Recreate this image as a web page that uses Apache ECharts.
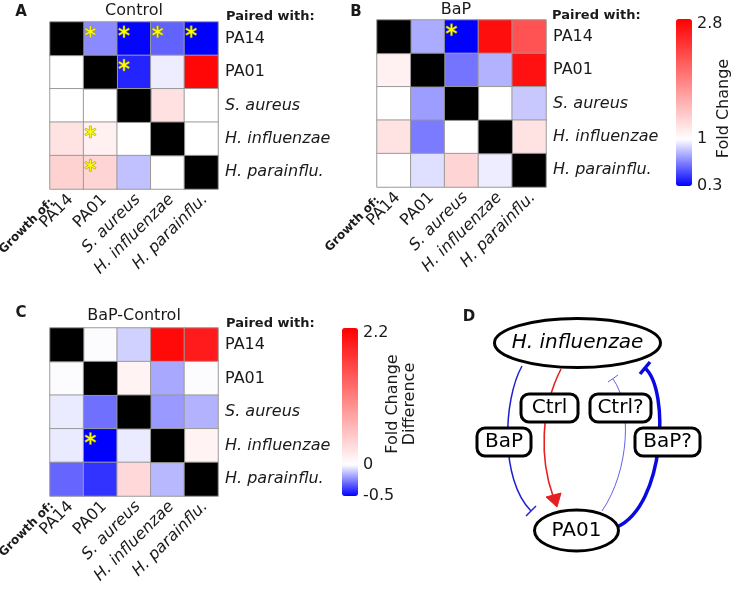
<!DOCTYPE html>
<html><head><meta charset="utf-8">
<script src="https://cdn.jsdelivr.net/npm/echarts@6/dist/echarts.min.js"></script>
<style>html,body{margin:0;padding:0;background:#fff}#c{width:737px;height:603px}</style>
</head><body><div id="c"></div><script>
// ---------- data ----------
const growthOf = ['PA14', 'PA01', 'S. aureus', 'H. influenzae', 'H. parainflu.'];
const pairedWith = ['PA14', 'PA01', 'S. aureus', 'H. influenzae', 'H. parainflu.'];
const italicNames = ['S. aureus', 'H. influenzae', 'H. parainflu.'];
// rows = paired with, columns = growth of; null = self pairing (black cell)
const controlFold = [
  [null, 0.68, 0.31, 0.57, 0.30],
  [1.00, null, 0.40, 0.95, 2.75],
  [1.00, 1.00, null, 1.21, 1.00],
  [1.20, 1.10, 1.00, null, 1.00],
  [1.32, 1.30, 0.83, 1.00, null]
];
const bapFold = [
  [null, 0.77, 0.30, 2.70, 2.22],
  [1.10, null, 0.62, 0.79, 2.68],
  [1.00, 0.73, null, 1.00, 0.85],
  [1.20, 0.64, 1.00, null, 1.20],
  [1.00, 0.91, 1.30, 0.95, null]
];
const diffFold = [
  [null, 0.00, -0.09, 2.12, 1.97],
  [0.00, null, 0.10, -0.17, 0.00],
  [-0.04, -0.28, null, -0.20, -0.15],
  [-0.04, -0.50, -0.04, null, 0.10],
  [-0.30, -0.40, 0.33, -0.14, null]
];
// significance stars as [column, row]
const controlStars = [[1, 0], [2, 0], [3, 0], [4, 0], [2, 1], [1, 3], [1, 4]];
const bapStars = [[2, 0]];
const diffStars = [[1, 3]];
const foldTicks = [0.3, 1, 2.8];
const diffTicks = [-0.5, 0, 2.2];

// ---------- helpers ----------
const FONT = 'DejaVu Sans';
const TXT = '#1a1a1a';
function toCells(m) { const o = []; m.forEach((row, r) => row.forEach((v, c) => { if (v !== null) o.push([c, r, v]); })); return o; }
function selfCells(m) { const o = []; m.forEach((row, r) => row.forEach((v, c) => { if (v === null) o.push([c, r, 0]); })); return o; }
function ramp(min, max, mid, n) {
  const cols = [];
  for (let i = 0; i < n; i++) {
    const v = min + (max - min) * i / (n - 1);
    let r, g, b;
    if (v <= mid) { const t = (mid - v) / (mid - min); r = g = Math.round(255 * (1 - t)); b = 255; }
    else { const t = (v - mid) / (max - mid); r = 255; g = b = Math.round(255 * (1 - t)); }
    cols.push('rgb(' + r + ',' + g + ',' + b + ')');
  }
  return cols;
}
function starPath() {
  const L = 10, w = 1.7, rin = w / Math.sin(Math.PI / 6);
  const pts = [];
  for (let k = 0; k < 6; k++) {
    const th = Math.PI / 2 + k * Math.PI / 3;
    const a0 = th - Math.PI / 6;
    pts.push([rin * Math.cos(a0), rin * Math.sin(a0)]);
    const dx = Math.cos(th), dy = Math.sin(th), nx = -dy, ny = dx;
    pts.push([L * dx - w * nx, L * dy - w * ny]);
    pts.push([L * dx + w * nx, L * dy + w * ny]);
  }
  return 'path://M' + pts.map(p => (p[0] + 12).toFixed(2) + ',' + (p[1] + 12).toFixed(2)).join('L') + 'Z';
}
const STAR = starPath();
const labelFmt = v => italicNames.indexOf(v) >= 0 ? '{i|' + v + '}' : '{n|' + v + '}';
const rich = {
  i: { fontStyle: 'italic', fontSize: 16, fontFamily: FONT, color: TXT },
  n: { fontSize: 16, fontFamily: FONT, color: TXT }
};

const gridPos = [
  { left: 50, top: 22, width: 168, height: 167 },
  { left: 377, top: 20, width: 169, height: 167 },
  { left: 50, top: 328, width: 168, height: 168 },
  { left: 676, top: 19, width: 16, height: 167 },
  { left: 342, top: 328, width: 16, height: 168 }
];

const xAxes = [], yAxes = [];
for (let i = 0; i < 3; i++) {
  xAxes.push({
    type: 'category', gridIndex: i, data: growthOf, position: 'bottom',
    axisLine: { show: false }, axisTick: { show: false }, splitLine: { show: false },
    axisLabel: { rotate: 45, interval: 0, margin: 7, padding: [7, -2, 0, 0], formatter: labelFmt, rich: rich }
  });
  yAxes.push({
    type: 'category', gridIndex: i, data: pairedWith, inverse: true, position: 'right',
    axisLine: { show: false }, axisTick: { show: false }, splitLine: { show: false },
    axisLabel: { interval: 0, margin: 7, formatter: labelFmt, rich: rich }
  });
}
const cbDefs = [
  { ticks: foldTicks, name: 'Fold Change', gap: 23, pad: [0, 12, 0, 0] },
  { ticks: diffTicks, name: 'Fold Change\nDifference', gap: 26, pad: [0, 0, 0, 16] }
];
cbDefs.forEach((d, k) => {
  const top = d.ticks[d.ticks.length - 1];
  xAxes.push({ type: 'value', gridIndex: 3 + k, show: false });
  yAxes.push({
    type: 'value', gridIndex: 3 + k, min: d.ticks[0], max: top, position: 'right',
    axisLine: { show: false }, axisTick: { show: false }, splitLine: { show: false },
    axisLabel: {
      customValues: d.ticks, margin: 5, fontSize: 16, fontFamily: FONT, color: TXT,
      formatter: v => (v === top ? '{t|' + v + '}' : '{n|' + v + '}'),
      rich: {
        t: { fontSize: 16, fontFamily: FONT, color: TXT, padding: [10, 0, 0, 0] },
        n: { fontSize: 16, fontFamily: FONT, color: TXT }
      }
    },
    name: d.name, nameLocation: 'middle', nameRotate: 90, nameGap: d.gap, nameMoveOverlap: false,
    nameTextStyle: { fontSize: 16, fontFamily: FONT, color: TXT, lineHeight: 17, padding: d.pad }
  });
});

const cellStyle = { borderColor: '#9a9a9a', borderWidth: 1 };
const series = [];
[controlFold, bapFold, diffFold].forEach((m, i) => {
  series.push({ type: 'heatmap', xAxisIndex: i, yAxisIndex: i, data: toCells(m), itemStyle: cellStyle, emphasis: { disabled: true } });
});
[controlFold, bapFold, diffFold].forEach((m, i) => {
  series.push({ type: 'heatmap', xAxisIndex: i, yAxisIndex: i, data: selfCells(m), itemStyle: { color: '#000', borderColor: '#9a9a9a', borderWidth: 1 }, emphasis: { disabled: true } });
});
[controlStars, bapStars, diffStars].forEach((s, i) => {
  series.push({
    type: 'scatter', xAxisIndex: i, yAxisIndex: i, data: s, symbol: STAR, symbolSize: 12,
    symbolKeepAspect: true, symbolOffset: [-10, -7], z: 5,
    itemStyle: { color: '#ffff00', borderColor: '#8a8a10', borderWidth: 0.5, opacity: 1 }, emphasis: { disabled: true }
  });
});

// ---------- annotations & panel D diagram ----------
const txt = (x, y, text, o) => Object.assign({ type: 'text', x: x, y: y, z: 10, style: Object.assign({ text: text, fontFamily: FONT, fontSize: 16, fill: TXT, align: 'center', verticalAlign: 'middle' }, o || {}) });
const rot = (x, y, text) => ({ type: 'text', x: x, y: y, rotation: Math.PI / 4, z: 10, style: { text: text, fontFamily: FONT, fontSize: 12, fontWeight: 'bold', fill: TXT, align: 'right', verticalAlign: 'middle' } });
const blueT = '#1f1fd0';
const g = [
  txt(21, 12, 'A', { fontWeight: 'bold', fontSize: 15 }),
  txt(356, 12, 'B', { fontWeight: 'bold', fontSize: 15 }),
  txt(21, 313, 'C', { fontWeight: 'bold', fontSize: 15 }),
  txt(469, 317, 'D', { fontWeight: 'bold', fontSize: 15 }),
  txt(134, 11, 'Control'),
  txt(456, 10, 'BaP'),
  txt(134, 316, 'BaP-Control'),
  txt(226, 17, 'Paired with:', { align: 'left', fontWeight: 'bold', fontSize: 13 }),
  txt(552, 16, 'Paired with:', { align: 'left', fontWeight: 'bold', fontSize: 13 }),
  txt(226, 324, 'Paired with:', { align: 'left', fontWeight: 'bold', fontSize: 13 }),
  rot(52, 201, 'Growth of:'),
  rot(378, 199, 'Growth of:'),
  rot(52, 504, 'Growth of:'),
  // curves
  { type: 'bezierCurve', z: 1, shape: { x1: 522, y1: 366, cpx1: 503, cpy1: 400, cpx2: 500, cpy2: 480, x2: 531, y2: 511 }, style: { stroke: blueT, lineWidth: 1.5, fill: null } },
  { type: 'line', z: 1, shape: { x1: 526, y1: 516, x2: 536, y2: 506 }, style: { stroke: blueT, lineWidth: 1.5 } },
  { type: 'bezierCurve', z: 1, shape: { x1: 561, y1: 369, cpx1: 540, cpy1: 410, cpx2: 540, cpy2: 460, x2: 553, y2: 496 }, style: { stroke: '#e62020', lineWidth: 1.6, fill: null } },
  { type: 'polygon', z: 1, shape: { points: [[557, 507], [546, 497], [561, 493]] }, style: { fill: '#e62020', stroke: '#e62020', lineWidth: 1 } },
  { type: 'bezierCurve', z: 1, shape: { x1: 602, y1: 511, cpx1: 630, cpy1: 470, cpx2: 632, cpy2: 405, x2: 613, y2: 379 }, style: { stroke: '#3a3ae6', lineWidth: 0.8, fill: null } },
  { type: 'line', z: 1, shape: { x1: 608, y1: 382, x2: 618, y2: 375 }, style: { stroke: '#3a3ae6', lineWidth: 0.8 } },
  { type: 'bezierCurve', z: 1, shape: { x1: 617, y1: 527, cpx1: 665, cpy1: 505, cpx2: 670, cpy2: 390, x2: 645, y2: 368 }, style: { stroke: '#0a0ae0', lineWidth: 3.5, fill: null } },
  { type: 'line', z: 1, shape: { x1: 640, y1: 374, x2: 650, y2: 362 }, style: { stroke: '#0a0ae0', lineWidth: 3.5 } },
  // nodes
  { type: 'ellipse', z: 3, shape: { cx: 577.5, cy: 343, rx: 83, ry: 24.5 }, style: { fill: '#fff', stroke: '#000', lineWidth: 3 } },
  txt(577.5, 343, 'H. influenzae', { fontStyle: 'italic', fontSize: 20, fill: '#000' }),
  { type: 'ellipse', z: 3, shape: { cx: 576.5, cy: 530.5, rx: 42, ry: 20.5 }, style: { fill: '#fff', stroke: '#000', lineWidth: 3 } },
  txt(576.5, 530.5, 'PA01', { fontSize: 20, fill: '#000' }),
  // label boxes
  { type: 'rect', z: 3, shape: { x: 477, y: 428, width: 54, height: 28, r: 8 }, style: { fill: '#fff', stroke: '#000', lineWidth: 3 } },
  txt(504, 442, 'BaP', { fontSize: 20, fill: '#000' }),
  { type: 'rect', z: 3, shape: { x: 521, y: 394, width: 57, height: 28, r: 8 }, style: { fill: '#fff', stroke: '#000', lineWidth: 3 } },
  txt(549.5, 408, 'Ctrl', { fontSize: 20, fill: '#000' }),
  { type: 'rect', z: 3, shape: { x: 590, y: 394, width: 61, height: 28, r: 8 }, style: { fill: '#fff', stroke: '#000', lineWidth: 3 } },
  txt(620.5, 408, 'Ctrl?', { fontSize: 20, fill: '#000' }),
  { type: 'rect', z: 3, shape: { x: 635, y: 428, width: 65, height: 28, r: 8 }, style: { fill: '#fff', stroke: '#000', lineWidth: 3 } },
  txt(667.5, 442, 'BaP?', { fontSize: 20, fill: '#000' })
];

const chart = echarts.init(document.getElementById('c'));
chart.setOption({
  animation: false,
  backgroundColor: '#fff',
  textStyle: { fontFamily: FONT },
  grid: gridPos,
  xAxis: xAxes,
  yAxis: yAxes,
  visualMap: [
    { type: 'continuous', seriesIndex: [0, 1], min: foldTicks[0], max: foldTicks[2], left: 676, top: 19, padding: 0,
      itemWidth: 16, itemHeight: 167, calculable: false, hoverLink: false, inRange: { color: ramp(foldTicks[0], foldTicks[2], foldTicks[1], 101) } },
    { type: 'continuous', seriesIndex: [2], min: diffTicks[0], max: diffTicks[2], left: 342, top: 328, padding: 0,
      itemWidth: 16, itemHeight: 168, calculable: false, hoverLink: false, inRange: { color: ramp(diffTicks[0], diffTicks[2], diffTicks[1], 101) } }
  ],
  series: series,
  graphic: { elements: g }
});
</script></body></html>
